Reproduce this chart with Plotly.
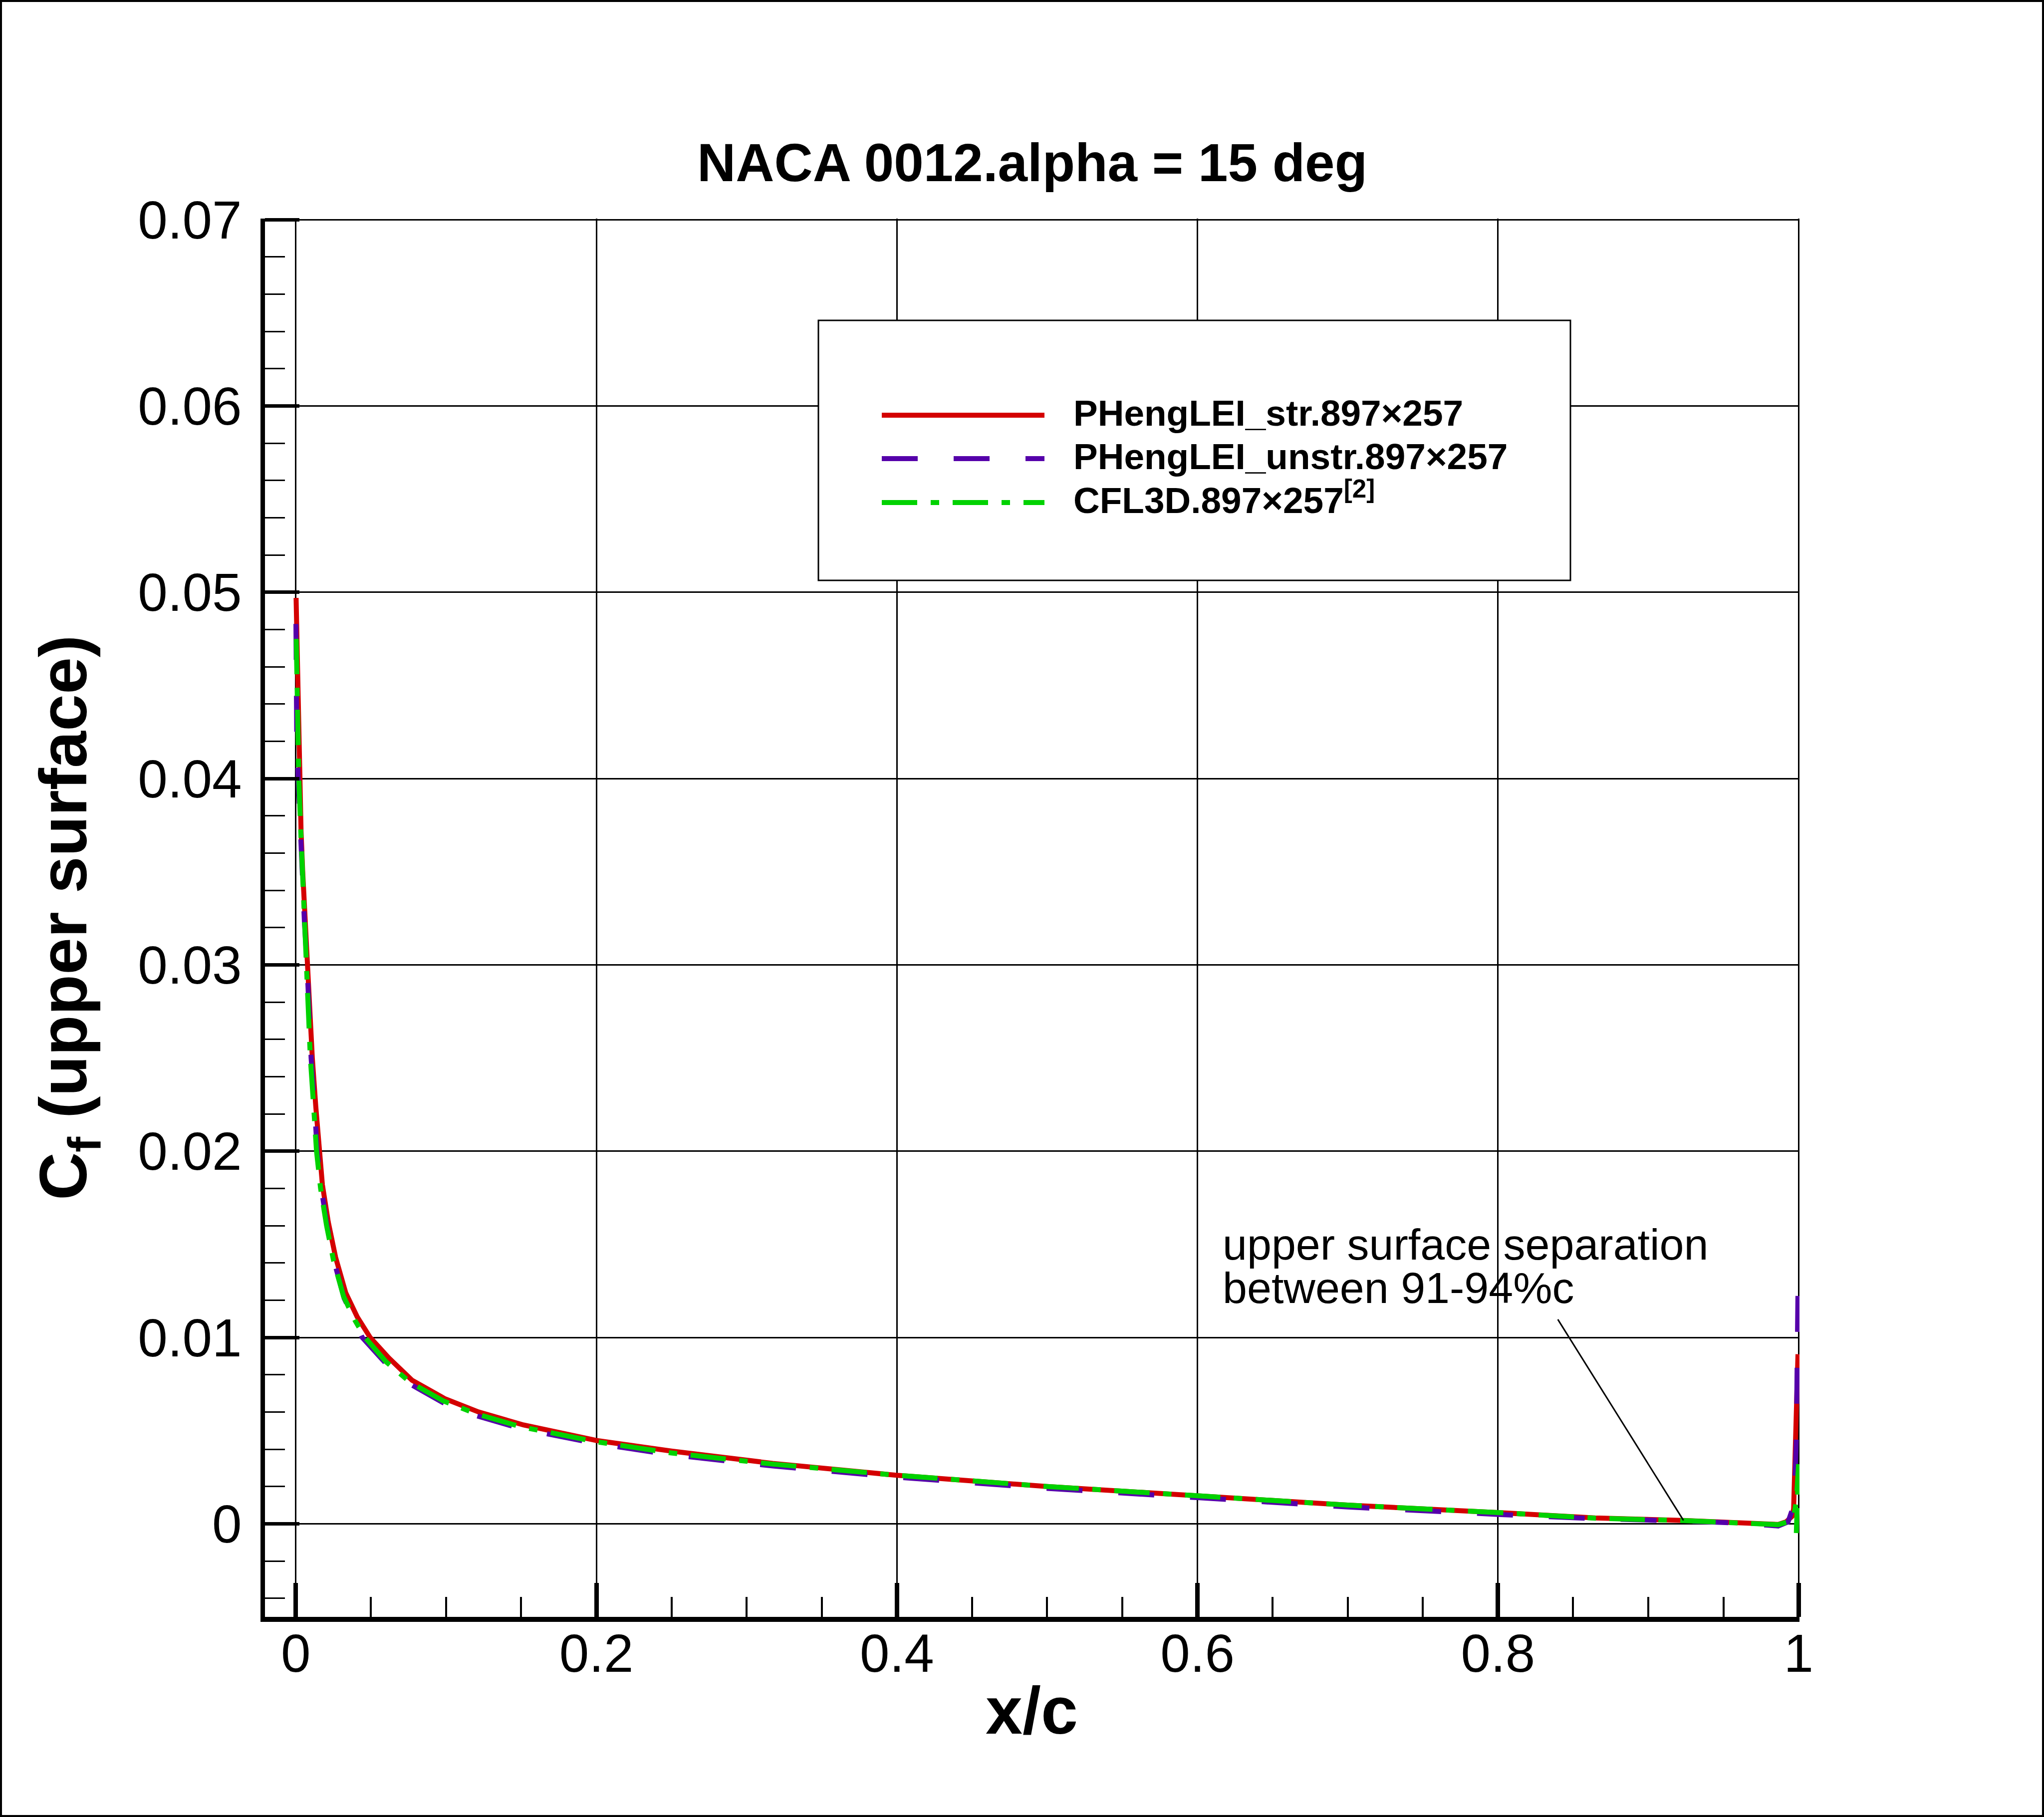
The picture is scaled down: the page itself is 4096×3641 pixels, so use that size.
import plotly.graph_objects as go

# ---------------- data ----------------
x_str = [0.0002, 0.0008, 0.0015, 0.0024, 0.0035, 0.0046, 0.0062, 0.0082, 0.0110, 0.0133,
         0.0157, 0.0177, 0.0216, 0.0265, 0.0332, 0.0409, 0.0495, 0.0619, 0.0774, 0.0995,
         0.1216, 0.1516, 0.2000, 0.2500, 0.3174, 0.4000, 0.5000, 0.6000, 0.7000, 0.8000,
         0.8647, 0.9233, 0.9640, 0.9864, 0.9917, 0.9957, 0.9967, 0.9978, 0.9989, 0.9996]
cf_str = [0.0497, 0.0475, 0.0450, 0.0400, 0.0372, 0.0350, 0.0323, 0.0298, 0.0250, 0.0224,
          0.0200, 0.0182, 0.0162, 0.0143, 0.0124, 0.0111, 0.0100, 0.0089, 0.0077, 0.0067,
          0.0060, 0.0053, 0.00447, 0.0039, 0.00324, 0.0026, 0.0020, 0.0015, 0.0010, 0.0006,
          0.00031, 0.00018, 0.00005, -0.00004, 0.0001, 0.0004, 0.0008, 0.0032, 0.0071, 0.0091]

x_unstr = [0.0001, 0.0003, 0.0006, 0.0016, 0.0030, 0.0043, 0.0058, 0.0075, 0.0102, 0.0125,
           0.0142, 0.0170, 0.0210, 0.0258, 0.0322, 0.0398, 0.0442, 0.0600, 0.0760, 0.0980,
           0.1200, 0.1500, 0.2000, 0.2500, 0.3174, 0.4000, 0.5000, 0.6000, 0.7000, 0.8000,
           0.8647, 0.9233, 0.9640, 0.9864, 0.9930, 0.9960, 0.9975, 0.9985, 0.9990, 0.9994,
           0.9998]
cf_unstr = [0.0483, 0.0455, 0.0425, 0.0400, 0.0372, 0.0348, 0.0322, 0.0300, 0.0250, 0.0224,
            0.0200, 0.0180, 0.0159, 0.0140, 0.0121, 0.0108, 0.0100, 0.0086, 0.0075, 0.0065,
            0.0058, 0.0051, 0.0043, 0.0037, 0.0031, 0.0025, 0.0019, 0.0014, 0.0009, 0.0005,
            0.00027, 0.00015, 0.00002, -0.00012, 0.0001, 0.0008, 0.0020, 0.0045, 0.0080, 0.0115,
            0.0140]

x_cfl3d = [0.0003, 0.0006, 0.0012, 0.0020, 0.0033, 0.0044, 0.0057, 0.0068, 0.0097, 0.0118,
           0.0138, 0.0165, 0.0205, 0.0252, 0.0318, 0.0395, 0.0461, 0.0600, 0.0760, 0.0980,
           0.1200, 0.1500, 0.2000, 0.2500, 0.3174, 0.4000, 0.5000, 0.6000, 0.7000, 0.8000,
           0.8647, 0.9233, 0.9640, 0.9864, 0.9930, 0.9968, 0.9985, 0.9995, 1.0000, 0.9985]
cf_cfl3d = [0.0475, 0.0455, 0.0425, 0.0400, 0.0372, 0.0350, 0.0322, 0.0300, 0.0250, 0.0225,
            0.0200, 0.0180, 0.0160, 0.0141, 0.0122, 0.0109, 0.0100, 0.0087, 0.0076, 0.0066,
            0.0059, 0.0052, 0.0044, 0.0038, 0.0032, 0.0026, 0.0020, 0.0015, 0.0010, 0.0006,
            0.0003, 0.00017, 0.00004, -0.00005, 0.0001, 0.0004, 0.0012, 0.0022, 0.0032, -0.0005]

series_names = ["PHengLEI_str.897×257", "PHengLEI_unstr.897×257", "CFL3D.897×257<sup>[2]</sup>"]
series_colors = ["#D40000", "#5500AA", "#00D200"]
series_dash = ["solid", "72px,72px", "71px,27px,17px,27px"]

title_text = "NACA 0012.alpha = 15 deg"
xlabel = "x/c"
ylabel = "C<sub>f</sub> (upper surface)"
note_lines = ["upper surface separation", "between 91-94%c"]
note_start = (0.8398, 0.01097)   # text end of the pointer line (data coords)
note_tip = (0.9234, 0.00018)     # separation point on the curve

# ---------------- layout geometry (pixels) ----------------
W, H = 4096, 3641
L, R, T, B = 531, 490, 438, 401
PW, PH = W - L - R, H - T - B
FONT = "Liberation Sans, Arial, Helvetica, sans-serif"


def px(xp):
    return (xp - L) / PW


def py(yp):
    return (H - B - yp) / PH


fig = go.Figure()
for xs, ys, name, col, dash in zip([x_str, x_unstr, x_cfl3d], [cf_str, cf_unstr, cf_cfl3d],
                                   series_names, series_colors, series_dash):
    fig.add_trace(go.Scatter(x=xs, y=ys, mode="lines", name=name, showlegend=False,
                             line=dict(color=col, width=10, dash=dash)))

axis_common = dict(showgrid=True, gridcolor="black", gridwidth=3, zeroline=False,
                   showline=True, linecolor="black", ticks="inside", tickcolor="black",
                   tickfont=dict(family=FONT, size=107, color="black"))

fig.update_xaxes(range=[-0.0205, 1.0006], dtick=0.2, tick0=0, linewidth=10,
                 ticklen=68, tickwidth=9, ticklabelstandoff=-28,
                 minor=dict(ticks="inside", dtick=0.05, tick0=0, ticklen=40, tickwidth=4,
                            tickcolor="black", showgrid=False),
                 **axis_common)
fig.update_yaxes(range=[-0.005, 0.07006], dtick=0.01, tick0=0, linewidth=9,
                 ticklen=69, tickwidth=7, ticklabelstandoff=16,
                 minor=dict(ticks="inside", dtick=0.002, tick0=0, ticklen=40, tickwidth=3,
                            tickcolor="black", showgrid=False),
                 **axis_common)

shapes = []
annotations = []

# outer frame of the picture
shapes.append(dict(type="rect", xref="paper", yref="paper",
                   x0=px(0), x1=px(W), y0=py(H), y1=py(0),
                   line=dict(color="black", width=8), fillcolor="rgba(0,0,0,0)"))

# legend box
shapes.append(dict(type="rect", xref="paper", yref="paper",
                   x0=px(1640), x1=px(3147), y0=py(1163), y1=py(642),
                   line=dict(color="black", width=3), fillcolor="white", layer="above"))
row_line_y = [832, 919, 1007]
row_base_y = [854, 941, 1029]
for name, col, dash, ly, by in zip(series_names, series_colors, series_dash, row_line_y, row_base_y):
    shapes.append(dict(type="line", xref="paper", yref="paper",
                       x0=px(1767), x1=px(2093), y0=py(ly), y1=py(ly),
                       line=dict(color=col, width=10, dash=dash), layer="above"))
    annotations.append(dict(text="<b>" + name + "</b>", xref="paper", yref="paper",
                            x=px(2150), y=py(by + 15), xanchor="left", yanchor="bottom",
                            showarrow=False, borderpad=0,
                            font=dict(family=FONT, size=73, color="black")))

# pointer line of the note
shapes.append(dict(type="line", xref="x", yref="y",
                   x0=note_start[0], y0=note_start[1], x1=note_tip[0], y1=note_tip[1],
                   line=dict(color="black", width=3), layer="above"))
for txt, base in zip(note_lines, [2525, 2612]):
    annotations.append(dict(text=txt, xref="paper", yref="paper",
                            x=px(2449), y=py(base + 19), xanchor="left", yanchor="bottom",
                            showarrow=False, borderpad=0,
                            font=dict(family=FONT, size=88, color="black")))

# title and axis titles
annotations.append(dict(text="<b>" + title_text + "</b>", xref="paper", yref="paper",
                        x=0.5, y=py(364 + 23), xanchor="center", yanchor="bottom",
                        showarrow=False, borderpad=0,
                        font=dict(family=FONT, size=107, color="black")))
annotations.append(dict(text="<b>" + xlabel + "</b>", xref="paper", yref="paper",
                        x=px(2067), y=py(3475 + 28), xanchor="center", yanchor="bottom",
                        showarrow=False, borderpad=0,
                        font=dict(family=FONT, size=133, color="black")))
annotations.append(dict(text="<b>" + ylabel + "</b>", xref="paper", yref="paper",
                        x=px(137), y=0.5, xanchor="center", yanchor="middle",
                        textangle=-90, showarrow=False, borderpad=0,
                        font=dict(family=FONT, size=133, color="black")))

fig.update_layout(width=W, height=H, margin=dict(l=L, r=R, t=T, b=B, pad=0),
                  paper_bgcolor="white", plot_bgcolor="white", showlegend=False,
                  font=dict(family=FONT, color="black"),
                  shapes=shapes, annotations=annotations)

fig.write_html("out.html")
